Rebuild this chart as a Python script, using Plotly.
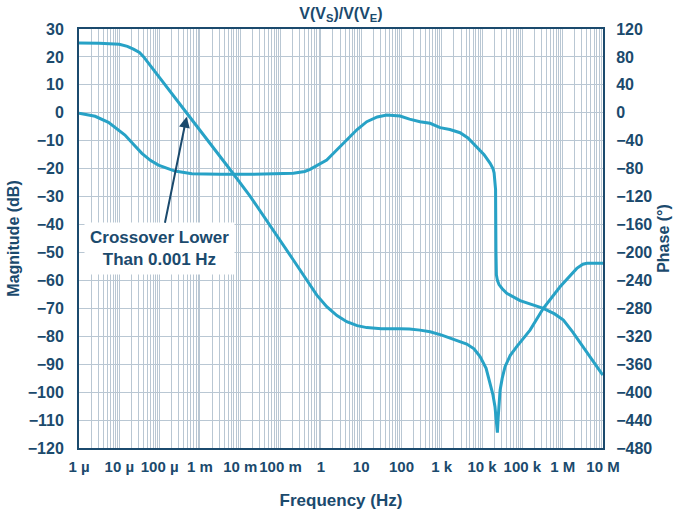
import plotly.graph_objects as go

# ---- data (log10 of frequency in Hz) ----
mag_logf = [-6.0, -5.5, -5.0, -4.8, -4.65, -4.5, -4.4, -4.2, -3.29, -2.21, -1.757,
            -0.682, -0.3, -0.1, 0.146, 0.4, 0.643, 0.9, 1.139, 1.5, 1.965, 2.2,
            2.46, 2.71, 3.0, 3.29, 3.62, 3.8, 3.95, 4.1, 4.2, 4.27, 4.32, 4.36,
            4.38, 4.40, 4.447, 4.5, 4.57, 4.7, 4.86, 5.19, 5.52, 5.935, 6.2,
            6.35, 6.5, 6.6, 7.0]
mag_db = [25.0, 24.9, 24.5, 23.8, 22.8, 21.6, 20.1, 16.4, -0.8, -21.1, -29.8,
          -52.7, -60.8, -65.3, -69.4, -72.6, -74.8, -76.2, -76.9, -77.3, -77.3, -77.4,
          -77.8, -78.4, -79.6, -81.1, -82.8, -84.5, -87.3, -91.5, -96.9, -101.0, -105.2, -110.0,
          -114.5, -109.0, -99.3, -95.0, -90.9, -86.8, -83.7, -77.8, -70.0, -62.3, -58.0,
          -55.7, -54.2, -53.9, -53.9]

phase_logf = [-6.0, -5.6, -5.27, -4.86, -4.65, -4.44, -4.23, -4.03, -3.62, -3.2, -2.5,
              -1.757, -0.682, -0.4, -0.268, 0.146, 0.4, 0.643, 0.9, 1.139, 1.4, 1.635,
              1.965, 2.2, 2.46, 2.71, 2.958, 3.2, 3.454, 3.65, 3.868, 4.05, 4.2, 4.27,
              4.298, 4.335, 4.345, 4.355, 4.38, 4.42, 4.5, 4.613, 4.943, 5.2, 5.52,
              5.8, 6.018, 6.25, 6.51, 6.995]
phase_deg = [-0.7, -5.0, -13.6, -31.8, -45.0, -58.0, -68.0, -74.8, -83.4, -87.2, -88.0,
             -88.1, -86.7, -84.0, -81.0, -67.6, -53.0, -39.0, -24.0, -12.7, -6.0, -3.2,
             -4.6, -9.0, -12.7, -15.0, -21.3, -24.0, -28.5, -36.0, -48.5, -60.0, -72.3, -80.0,
             -86.0, -110.0, -200.0, -232.0, -240.0, -246.0, -252.0, -258.5, -269.0, -274.0, -280.0,
             -288.0, -296.7, -314.0, -335.0, -375.5]

x_tick_labels = ["1 µ", "10 µ", "100 µ", "1 m", "10 m", "100 m", "1",
                 "10", "100", "1 k", "10 k", "100 k", "1 M", "10 M"]
decade_exponents = list(range(-6, 8))

NAVY = "#1b4a6d"
CURVE = "#27a2c6"
GRID = "#b9c7d3"
FONT = "Arial, Liberation Sans, sans-serif"

# gridline positions at every 1..9 x 10^k, labels only at decades
tickvals, ticktext = [], []
for i, e in enumerate(decade_exponents):
    for m in range(1, 10):
        if e == decade_exponents[-1] and m > 1:
            break
        tickvals.append(m * 10.0 ** e)
        ticktext.append(x_tick_labels[i] if m == 1 else "")

fig = go.Figure()
fig.add_trace(go.Scatter(x=[10 ** v for v in mag_logf], y=mag_db, mode="lines",
                         line=dict(color=CURVE, width=3), yaxis="y", name="Magnitude"))
fig.add_trace(go.Scatter(x=[10 ** v for v in phase_logf], y=phase_deg, mode="lines",
                         line=dict(color=CURVE, width=3), yaxis="y2", name="Phase"))

fig.update_layout(
    width=676, height=513,
    margin=dict(l=79, r=73, t=29, b=65),
    paper_bgcolor="white", plot_bgcolor="white", showlegend=False,
    font=dict(family=FONT, size=16, color=NAVY, weight="bold"),
    title=dict(text="V(V<sub>S</sub>)/V(V<sub>E</sub>)", x=0.5044, xanchor="center",
               y=1 - 13 / 513, yanchor="middle", yref="container",
               font=dict(family=FONT, size=16, color=NAVY, weight="bold")),
    xaxis=dict(type="log", range=[-6, 7], tickmode="array", tickvals=tickvals,
               ticktext=ticktext, showgrid=True, gridcolor=GRID, gridwidth=1,
               showline=True, linecolor=NAVY, linewidth=2, mirror=True, ticks="",
               ticklabelstandoff=4, zeroline=False, tickangle=0, automargin=False,
               tickfont=dict(family=FONT, size=15, color=NAVY, weight="bold"),
               title=dict(text="Frequency (Hz)", standoff=20,
                          font=dict(family=FONT, size=17, color=NAVY, weight="bold"))),
    yaxis=dict(range=[-120, 30], dtick=10, tick0=0, showgrid=True, gridcolor=GRID,
               gridwidth=1, showline=True, linecolor=NAVY, linewidth=2, mirror=True,
               ticks="", ticklabelstandoff=10, zeroline=False, automargin=False,
               tickfont=dict(family=FONT, size=16, color=NAVY, weight="bold"),
               title=dict(text="Magnitude (dB)", standoff=4,
                          font=dict(family=FONT, size=16, color=NAVY, weight="bold"))),
    yaxis2=dict(range=[-480, 120], dtick=40, tick0=0, overlaying="y", side="right",
                showgrid=False, showline=True, linecolor=NAVY, linewidth=2,
                ticks="", ticklabelstandoff=8, zeroline=False, automargin=False,
                tickfont=dict(family=FONT, size=16, color=NAVY, weight="bold"),
                title=dict(text="Phase (°)", standoff=6,
                           font=dict(family=FONT, size=16, color=NAVY, weight="bold"))),
)

fig.add_annotation(
    x=-3.33, y=-1.4, xref="x", yref="y",
    text="Crossover Lower<br>Than 0.001 Hz",
    showarrow=True, ax=-27, ay=132, axref="pixel", ayref="pixel",
    arrowhead=2, arrowsize=1.1, arrowwidth=2, arrowcolor=NAVY, standoff=0,
    bgcolor="white", borderpad=5,
    font=dict(family=FONT, size=17, color=NAVY, weight="bold"),
)

fig.write_html("out.html")
